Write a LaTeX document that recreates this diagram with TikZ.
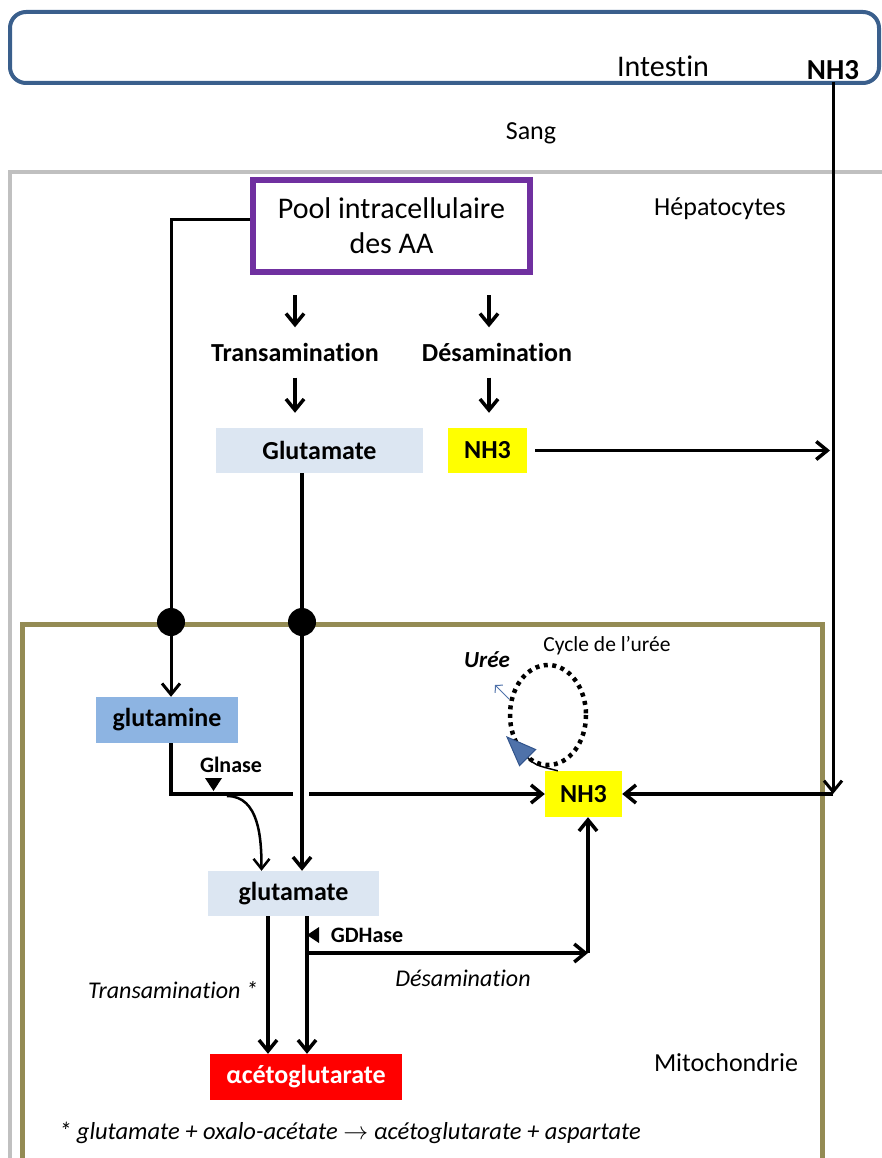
\documentclass[tikz,border=0pt]{standalone}
\usepackage{fontspec}
\setmainfont{Carlito}[RawFeature={-liga}]
\usetikzlibrary{arrows.meta,calc}

\definecolor{intblue}{RGB}{58,95,140}
\definecolor{hepgray}{RGB}{192,192,192}
\definecolor{poolpurple}{RGB}{112,48,160}
\definecolor{mitoolive}{RGB}{148,139,84}
\definecolor{boxpale}{RGB}{220,230,242}
\definecolor{glnblue}{RGB}{141,180,226}
\definecolor{nhyellow}{RGB}{255,255,0}
\definecolor{akred}{RGB}{255,0,0}
\definecolor{ureeblue}{RGB}{79,114,170}
\definecolor{ureedark}{RGB}{50,84,140}

\tikzset{
  conn/.style={line width=3.5pt, -{Straight Barb[length=11pt,width=18pt]}},
  plain/.style={line width=3.5pt},
  lbl/.style={font=\fontsize{26}{30}\selectfont\bfseries, inner sep=0pt},
  region/.style={font=\fontsize{26}{30}\selectfont, inner sep=0pt},
  itlbl/.style={font=\fontsize{24}{28}\selectfont\itshape, inner sep=0pt},
  cbox/.style={font=\fontsize{26}{30}\selectfont\bfseries, inner sep=0pt},
  dot/.style={circle, fill=black, minimum size=28pt, inner sep=0pt},
}

\begin{document}
\begin{tikzpicture}[x=1pt,y=-1pt]
\useasboundingbox (0,0) rectangle (881,1158);

% compartments
\draw[intblue, line width=4pt, rounded corners=16pt] (10,12) rectangle (879,83);
\draw[hepgray, line width=4pt] (10,1162) -- (10,172) -- (885,172);
\draw[mitoolive, line width=5pt] (22,1162) -- (22,624) -- (822,624) -- (822,1162);

\node[font=\fontsize{30}{34}\selectfont, inner sep=0pt] (intestin) at (663,66) {Intestin};
\node[font=\fontsize{29}{33}\selectfont\bfseries, inner sep=2pt] (nh3i) at (833,70) {NH3};
\node[region] (sang) at (531,133) {Sang};
\node[region] (hep) at (720,209) {Hépatocytes};
\node[region] (mito) at (726,1063) {Mitochondrie};

% hepatocyte nodes
\node[draw=poolpurple, line width=6pt, minimum width=277pt, minimum height=92pt,
      align=center, inner sep=0pt, font=\fontsize{30}{35}\selectfont] (pool) at (391.5,226)
      {Pool intracellulaire\\des AA};
\node[lbl, text height=18pt, text depth=5pt] (trans) at (295,355) {Transamination};
\node[lbl, text height=18pt, text depth=5pt] (desam) at (497,355) {Désamination};
\node[cbox, fill=boxpale, minimum width=207pt, minimum height=45pt] (glu) at (319.5,450.5) {Glutamate};
\node[cbox, fill=nhyellow, minimum width=79pt, minimum height=45pt] (nh3h) at (487.5,450.5) {NH3};

% mitochondria nodes
\node[dot] (d1) at (171,622) {};
\node[dot] (d2) at (302,622) {};
\node[cbox, fill=glnblue, minimum width=142pt, minimum height=46pt] (gln) at (167,720) {glutamine};
\node[cbox, fill=nhyellow, minimum width=77pt, minimum height=46pt] (nh3m) at (583.5,794) {NH3};
\node[cbox, fill=boxpale, minimum width=171pt, minimum height=45pt] (glum) at (293.5,893.5) {glutamate};
\node[cbox, fill=akred, text=white, minimum width=192pt, minimum height=46pt] (ak) at (306,1077) {αcétoglutarate};

\node[font=\fontsize{22}{26}\selectfont\bfseries, inner sep=0pt] (glnase) at (231,765) {Glnase};
\node[font=\fontsize{22}{26}\selectfont\bfseries, inner sep=0pt] (gdh) at (367,935) {GDHase};
\node[itlbl] (transit) at (173,990) {Transamination *};
\node[itlbl] (desamit) at (463,978) {Désamination};
\node[font=\fontsize{23}{27}\selectfont\bfseries\itshape, inner sep=0pt] (uree) at (487,660) {Urée};
\node[font=\fontsize{21.5}{25}\selectfont, inner sep=0pt] (cycle) at (607,646) {Cycle de l’urée};
\node[font=\fontsize{24.5}{28}\selectfont\itshape, inner sep=0pt] (foot) at (350,1133)
  {* glutamate + oxalo-acétate $\rightarrow$ αcétoglutarate + aspartate};

% pool towards transamination / deamination
\draw[conn, shorten <=20pt, shorten >=16pt] (pool.south -| trans.north) -- (trans.north);
\draw[conn, shorten <=11pt, shorten >=15pt] (trans.south) -- (trans.south |- glu.north);
\draw[conn, shorten <=20pt, shorten >=16pt] ([xshift=-8pt]pool.south -| desam.north) -- ([xshift=-8pt]desam.north);
\draw[conn, shorten <=11pt, shorten >=15pt] ([xshift=-8pt]desam.south) -- ([xshift=-8pt]desam.south |- nh3h.north);

% intestinal ammonia and hepatic ammonia
\coordinate (rbend) at (nh3i.south |- nh3m.east);
\draw[line width=3pt, -{Straight Barb[length=11pt,width=18pt]}] (nh3i.south) -- (rbend);
\draw[conn, shorten <=8pt, shorten >=3pt] (nh3h.east) -- (nh3h.east -| nh3i.south);
\draw[conn] (rbend) -- (nh3m.east);

% glutamine route
\draw[line width=3pt] ([yshift=6pt]pool.west) -| (d1);
\draw[line width=3pt, -{Straight Barb[length=11pt,width=18pt]}] (d1) -- (d1 |- gln.north);
\draw[conn] (gln.south -| d1) |- (nh3m.west);
\draw[white, line width=8pt] (293,794) -- (309,794);
\coordinate (glnj) at (227,796);
\draw[line width=2.5pt, -{Straight Barb[length=10pt,width=16pt]}] (glnj) to[out=0,in=90] ([xshift=-32pt]glum.north);
\fill (205,778) -- (222,778) -- (213.5,791) -- cycle;

% glutamate route
\draw[plain] (glu.south -| d2) -- (d2);
\draw[conn] (d2) -- (d2 |- glum.north);
\draw[conn] ([xshift=-25.5pt]glum.south) -- ([xshift=-25.5pt]glum.south |- ak.north);
\draw[conn] ([xshift=13.5pt]glum.south) -- ([xshift=13.5pt]glum.south |- ak.north);
\fill (319,927) -- (319,943) -- (307,935) -- cycle;
\coordinate (gd) at (307,953);
\coordinate (gc) at (588,953);
\draw[conn] (gd) -- (gc);
\draw[conn] (gc) -- (gc |- nh3m.south);

% urea cycle
\draw[line width=4.5pt, dash pattern=on 4pt off 4.5pt] (548,715) ellipse [x radius=38, y radius=50];
\draw[line width=1.5pt, -{Triangle[length=31pt,width=24pt,fill=ureeblue,color=ureedark,line width=1pt]}]
  ([xshift=13pt]nh3m.north west) .. controls (535,765) .. (506,736);
\draw[ureeblue, line width=1pt, -{Straight Barb[length=5pt,width=11pt]}] (509,699) -- (495,685);
\end{tikzpicture}
\end{document}
